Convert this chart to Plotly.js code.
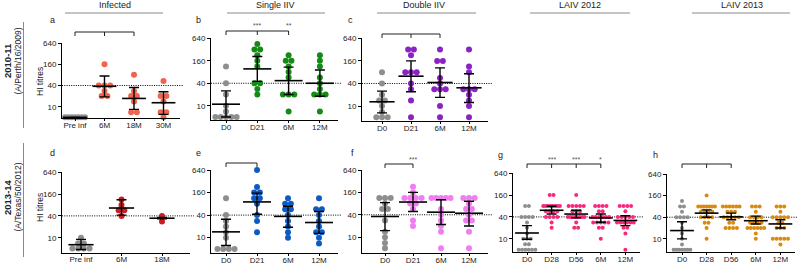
<!DOCTYPE html>
<html><head><meta charset="utf-8">
<script src="https://cdn.plot.ly/plotly-3.0.1.min.js"></script>
<style>html,body{margin:0;padding:0;background:#fff}#chart{width:798px;height:265px}</style>
</head><body><div id="chart"></div>
<script>
// ---------- categories ----------
const catsA = ['Pre inf','6M','18M','30M'];
const catsB = ['D0','D21','6M','12M'];
const catsC = ['D0','D21','6M','12M'];
const catsD = ['Pre inf','6M','18M'];
const catsE = ['D0','D21','6M','12M'];
const catsF = ['D0','D21','6M','12M'];
const catsG = ['D0','D28','D56','6M','12M'];
const catsH = ['D0','D28','D56','6M','12M'];

// ---------- individual HI titres (one array per group) ----------
const titresA = [[5,5,5,5,5,5,5],[160,40,40,40,28,20,20],[80,28,20,20,14,7,7],[54,20,20,14,7,7,5]];
const titresB = [[113,40,20,10,7,5,5,5,5,5],[450,320,320,226,160,113,40,40,28,20],[226,160,160,113,80,57,20,20,20,7],[226,160,113,57,40,28,20,20,20,7]];
const titresC = [[80,40,20,14,14,10,7,5,5,5],[320,320,226,80,80,80,40,28,14,5],[320,160,160,56,40,28,28,28,10,5],[320,113,80,28,28,28,20,14,10,5]];
const titresD = [[10,7,7,5,5,5,5],[113,80,57,57,40],[40,28]];
const titresE = [[113,40,28,20,14,10,5,5,5,5],[640,226,160,160,113,113,80,40,28,14],[113,80,80,57,57,40,28,20,14,10],[113,57,57,40,28,20,14,14,10,7]];
const titresF = [[113,113,113,80,57,57,28,14,10,7,5],[226,160,113,113,113,113,80,80,57,28,20],[113,113,113,113,113,57,40,28,20,14,5],[113,113,113,80,57,57,40,28,28,14,5]];
const titresG = [
  [80,80,40,40,40,40,28,20,14,10,10,10,7,7,5,5,5,5,5,5],
  [160,160,80,80,80,80,80,80,80,80,57,57,57,57,40,40,40,40,28,20],
  [160,80,80,80,80,80,57,57,57,40,40,40,40,40,40,40,40,28,20,20],
  [80,80,80,80,57,57,40,40,40,40,40,40,28,28,28,28,28,20,20,10],
  [80,80,80,80,57,40,40,40,40,40,28,28,28,28,28,28,20,20,14,5]];
const titresH = [
  [113,80,80,57,40,40,40,40,28,20,14,10,7,5,5,5,5,5,5,5],
  [160,80,80,80,80,80,80,80,57,57,57,57,40,40,40,40,28,28,20,10],
  [80,80,80,80,80,80,57,57,57,40,40,40,40,40,28,28,20,20,20,20],
  [80,80,80,57,40,40,40,40,28,28,28,28,20,20,20,20,20,20,14,10],
  [80,80,80,57,40,40,40,40,40,28,28,20,20,20,10,10,10,10,10,7]];

// ---------- geometric means and error-bar limits ----------
const gmA=[5,38,17.2,13],    loA=[5,19,8.4,6.1],   hiA=[5,74,35,26.5];
const gmB=[11,97,47,40],     loB=[5,45,20,18],     hiB=[25,208,108,91];
const gmC=[13,62.6,42.5,30.7],loC=[6.6,24,17,12.5],hiC=[25,160,104,73];
const gmD=[6.4,66,34.5],     loD=[4.7,42,33],      hiD=[9,112,36];
const gmE=[14.3,90,37,25.4], loE=[6.2,42,19,13],   hiE=[31,155,69,50];
const gmF=[36,88,47,44],     loF=[15,49,22,20],    hiF=[85,160,101,92];
const gmG=[14.4,61,48,37.5,32], loG=[9.7,48,38,28.5,23], hiG=[23,79,61,48,43];
const gmH=[17,52,41,32,26],  loH=[10,40,34,26,20], hiH=[30,64,52,43,34];

// ---------- y tick labels ----------
const yTicks = [10,40,160,640];
const yTickText = ['10','40','160','640'];
const threshold = 40;

// ---------- text ----------
const headers = ['Infected','Single IIV','Double IIV','LAIV 2012','LAIV 2013'];
const seasons = ['2010-11','2013-14'];
const strains = ['(A/Perth/16/2009)','(A/Texas/50/2012)'];
const letters = ['a','b','c','d','e','f','g','h'];

// ---------- layout / style configuration ----------
const W=798, H=265, GREY='#8e8e8e';
const FONT='Liberation Sans, Arial, sans-serif';
const panels = [
 {cats:catsA,vals:titresA,gm:gmA,lo:loA,hi:hiA,color:'#f0644f',L:62, c0:75, s:29.5,R:180,T:43,  B:118,vlo:4.8, ms:6, mw:17},
 {cats:catsB,vals:titresB,gm:gmB,lo:loB,hi:hiB,color:'#158a17',L:211,c0:226,s:31.3,R:338,T:38.3,B:120,vlo:4.15,ms:6, mw:20},
 {cats:catsC,vals:titresC,gm:gmC,lo:loC,hi:hiC,color:'#8a22c4',L:362,c0:382,s:29,  R:488,T:38.3,B:121,vlo:4.0, ms:6, mw:18},
 {cats:catsD,vals:titresD,gm:gmD,lo:loD,hi:hiD,color:'#cc1c20',L:62, c0:81, s:40.5,R:190,T:172.3,B:252.7,vlo:3.85,ms:6, mw:18},
 {cats:catsE,vals:titresE,gm:gmE,lo:loE,hi:hiE,color:'#0d5bc2',L:211,c0:226,s:31,  R:338,T:170, B:253,vlo:3.9, ms:6, mw:20},
 {cats:catsF,vals:titresF,gm:gmF,lo:loF,hi:hiF,color:'#f07ef0',L:362,c0:385,s:28,  R:488,T:170, B:253,vlo:3.75,ms:6, mw:20},
 {cats:catsG,vals:titresG,gm:gmG,lo:loG,hi:hiG,color:'#f7287c',L:513,c0:527,s:24.6,R:640,T:173.3,B:252,vlo:4.3, ms:4, mw:17},
 {cats:catsH,vals:titresH,gm:gmH,lo:loH,hi:hiH,color:'#d98a10',L:667,c0:682,s:24.6,R:795,T:174, B:252,vlo:4.3, ms:4, mw:17}
];
const letterPos = [[52,20],[198,20],[350,20],[52,153],[198,153],[352,153],[500,155],[655,155]];
const headerPos = [[115,65,163],[275,227,325],[424,377,476],[580,530,630],[742,692,790]];
const rowPos = [{c:61,y0:22,y1:128,title:82},{c:197,y0:143,y1:257,title:208}];
const brackets = [
 {p:0,from:0,to:2,mids:[1],y:32,stars:[]},
 {p:1,from:0,to:2,mids:[1],y:31,stars:[[1,'***'],[2,'**']]},
 {p:2,from:0,to:2,mids:[1],y:34,stars:[]},
 {p:4,from:0,to:1,mids:[],y:163,stars:[]},
 {p:5,from:0,to:1,mids:[],y:164,stars:[[1,'***']]},
 {p:6,from:0,to:3,mids:[1,2],y:164,stars:[[1,'***'],[2,'***'],[3,'*']]},
 {p:7,from:0,to:2,mids:[1],y:164,stars:[]}
];

const fx = px => px/W, fy = py => 1-py/H;
const traces=[], shapes=[], annotations=[];
const layout = {width:W,height:H,margin:{l:0,r:0,t:0,b:0},paper_bgcolor:'#fff',plot_bgcolor:'rgba(0,0,0,0)',
  showlegend:false,font:{family:FONT,size:8,color:'#222'}};

function swarmX(vals,j,p){
  const counts={}, seen={};
  vals.forEach(v=>counts[v]=(counts[v]||0)+1);
  return vals.map(v=>{
    const k=counts[v]; const idx=(seen[v]=(seen[v]||0)+1)-1;
    const gap = k>1 ? Math.min(p.ms*0.95, p.s*0.68/(k-1)) : 0;
    return j + (idx-(k-1)/2)*gap/p.s;
  });
}

panels.forEach((p,i)=>{
  const n=i+1, sfx = n>1? String(n):'';
  const xa='x'+sfx, ya='y'+sfx;
  layout['xaxis'+sfx] = {domain:[fx(p.L),fx(p.R)], range:[(p.L-p.c0)/p.s,(p.R-p.c0)/p.s], anchor:ya,
    tickvals:p.cats.map((c,j)=>j), ticktext:p.cats, showline:true, linecolor:'#000', linewidth:1,
    ticks:'outside', ticklen:2, tickwidth:1, tickcolor:'#000', ticklabelstandoff:-3,
    showgrid:false, zeroline:false, tickfont:{size:8,family:FONT,color:'#222'}, fixedrange:true};
  layout['yaxis'+sfx] = {domain:[fy(p.B),fy(p.T)], type:'log', range:[Math.log10(p.vlo),Math.log10(640)], anchor:xa,
    tickvals:yTicks, ticktext:yTickText, ticks:'outside', ticklen:3, tickwidth:1, tickcolor:'#000',
    showline:true, linecolor:'#000', linewidth:1, showgrid:false, zeroline:false,
    tickfont:{size:8,family:FONT,color:'#222'}, fixedrange:true};
  // threshold line
  shapes.push({type:'line', xref:xa+' domain', x0:0, x1:1.03, yref:ya, y0:threshold, y1:threshold,
    line:{color:'#000',width:1,dash:'1px,1.3px'}, layer:'below'});
  // points
  p.vals.forEach((grp,j)=>{
    traces.push({type:'scatter',mode:'markers',x:swarmX(grp,j,p),y:grp,xaxis:xa,yaxis:ya,cliponaxis:false,
      marker:{size:p.ms,color:j===0?GREY:p.color,line:{width:0}},hoverinfo:'skip'});
  });
  // mean + error bars
  traces.push({type:'scatter',mode:'markers',x:p.cats.map((c,j)=>j),y:p.gm,xaxis:xa,yaxis:ya,cliponaxis:false,
    marker:{symbol:'line-ew',size:p.mw,color:'#000',line:{color:'#000',width:1.6}},
    error_y:{type:'data',symmetric:false,array:p.hi.map((h,j)=>h-p.gm[j]),arrayminus:p.lo.map((l,j)=>p.gm[j]-l),
      color:'#000',thickness:1.4,width:5},hoverinfo:'skip'});
  annotations.push({xref:'paper',yref:'paper',x:fx(letterPos[i][0]),y:fy(letterPos[i][1]),text:letters[i],
    showarrow:false,xanchor:'center',yanchor:'middle',font:{size:9,family:FONT,color:'#222'}});
});

// significance brackets
brackets.forEach(b=>{
  const sfx = b.p>0? String(b.p+1):'';
  const xa='x'+sfx;
  const yTop=fy(b.y), yLow=fy(b.y+4);
  const line={color:'#222',width:1};
  shapes.push({type:'line',xref:xa,yref:'paper',x0:b.from,x1:b.to,y0:yTop,y1:yTop,line});
  [b.from,b.to].concat(b.mids).forEach(x=>shapes.push({type:'line',xref:xa,yref:'paper',x0:x,x1:x,y0:yTop,y1:yLow,line}));
  b.stars.forEach(([x,t])=>annotations.push({xref:xa,yref:'paper',x:x,y:fy(b.y-5),text:t,showarrow:false,
    xanchor:'center',yanchor:'middle',font:{size:7,family:FONT,color:'#555'}}));
});

// group headers
headers.forEach((t,k)=>{
  const [c,x0,x1]=headerPos[k];
  annotations.push({xref:'paper',yref:'paper',x:fx(c),y:fy(5),text:t,showarrow:false,xanchor:'center',yanchor:'middle',
    font:{size:9,family:FONT,color:'#222'}});
  shapes.push({type:'line',xref:'paper',yref:'paper',x0:fx(x0),x1:fx(x1),y0:fy(13),y1:fy(13),line:{color:'#8a8a8a',width:1}});
});

// row labels
seasons.forEach((s,k)=>{
  const r=rowPos[k];
  annotations.push({xref:'paper',yref:'paper',x:fx(8),y:fy(r.c),text:'<b>'+s+'</b>',textangle:-90,showarrow:false,
    xanchor:'center',yanchor:'middle',font:{size:9.5,family:FONT,color:'#222'}});
  annotations.push({xref:'paper',yref:'paper',x:fx(17.5),y:fy(r.c),text:strains[k],textangle:-90,showarrow:false,
    xanchor:'center',yanchor:'middle',font:{size:8.5,family:FONT,color:'#222'}});
  shapes.push({type:'line',xref:'paper',yref:'paper',x0:fx(23.5),x1:fx(23.5),y0:fy(r.y0),y1:fy(r.y1),line:{color:'#8a8a8a',width:1}});
  annotations.push({xref:'paper',yref:'paper',x:fx(40),y:fy(r.title),text:'HI titres',textangle:-90,showarrow:false,
    xanchor:'center',yanchor:'middle',font:{size:8.5,family:FONT,color:'#222'}});
});

layout.shapes=shapes; layout.annotations=annotations;
Plotly.newPlot('chart',traces,layout,{staticPlot:true,displayModeBar:false});
</script></body></html>
